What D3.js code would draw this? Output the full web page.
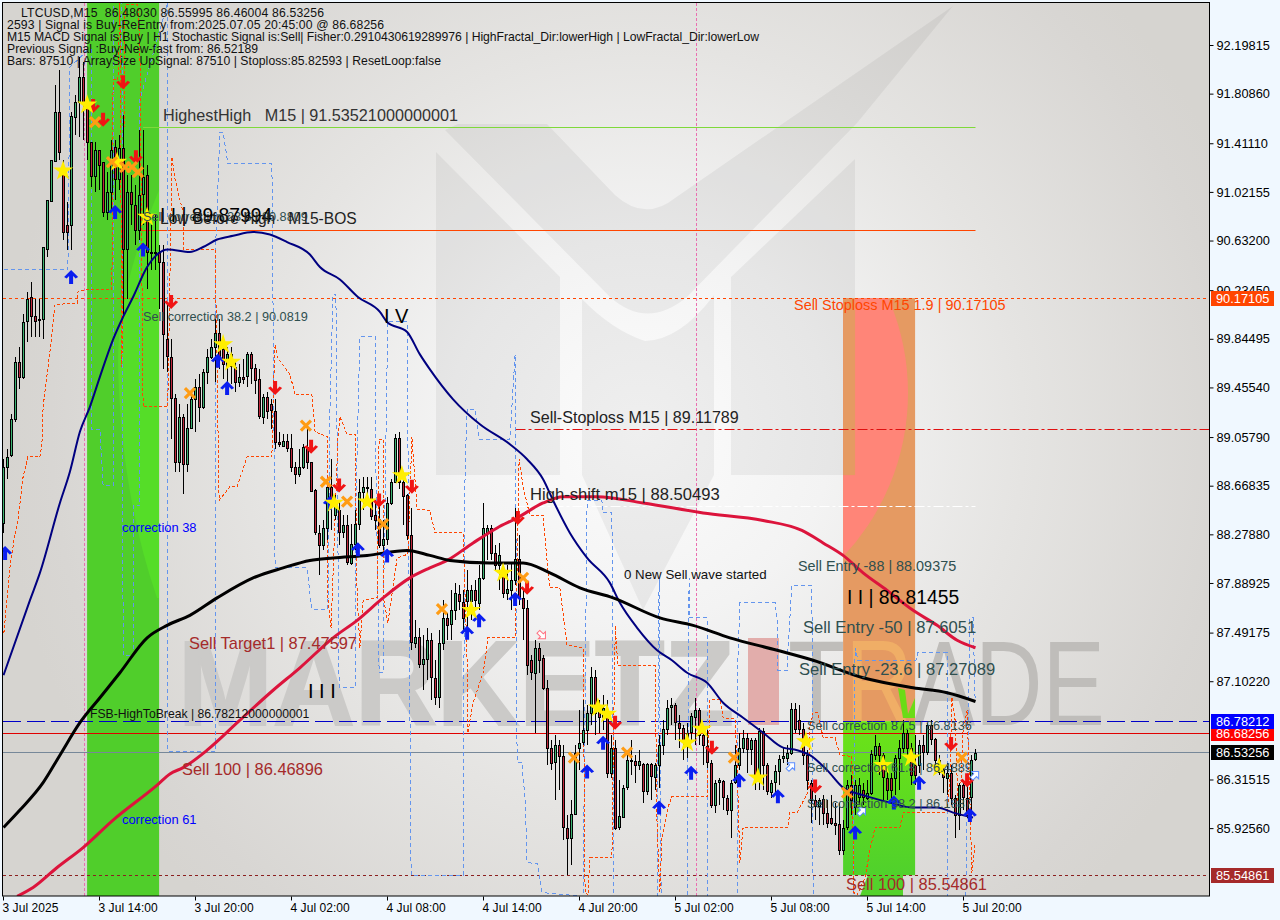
<!DOCTYPE html>
<html><head><meta charset="utf-8">
<script src="https://cdnjs.cloudflare.com/ajax/libs/d3/7.8.5/d3.min.js"></script>
<style>
html,body{margin:0;padding:0;background:#f0f8ff;width:1280px;height:920px;overflow:hidden}
svg{display:block;font-family:"Liberation Sans",Arial,sans-serif}
</style></head><body><svg id="c" width="1280" height="920"></svg>
<script>
// ---------- candle values, one per 15 minute bar from 3 Jul 2025 08:00 ----------
const opens=[88.37,88.82,88.91,89.20,89.66,89.54,89.98,90.18,90.03,90.00,90.00,90.57,90.95,91.27,91.66,91.20,90.76,90.76,91.62,91.74,
91.94,91.74,91.42,91.15,91.36,91.26,90.86,91.02,91.38,91.12,91.37,90.56,91.02,90.92,90.72,91.00,91.16,90.54,90.54,90.54,
90.46,89.84,89.70,89.37,88.86,89.22,88.84,89.13,89.36,89.46,89.30,89.58,89.70,89.78,89.89,89.76,89.62,89.72,89.62,89.50,
89.54,89.54,89.72,89.61,89.52,89.22,89.38,89.32,89.27,89.02,88.99,89.03,88.97,88.82,88.76,88.82,88.98,88.86,88.63,88.29,
88.19,88.33,88.66,88.43,88.47,88.29,88.35,88.05,88.20,88.36,88.62,88.66,88.64,88.43,88.40,88.19,88.24,88.53,88.70,89.05,
88.70,88.59,88.27,87.41,87.46,87.24,87.28,87.43,87.13,86.98,87.41,87.61,87.56,87.67,87.80,87.74,87.74,87.74,87.83,87.73,
87.93,88.29,88.33,88.13,88.03,87.96,87.81,87.83,87.91,88.08,87.77,87.69,87.27,87.17,87.37,87.29,87.05,86.57,86.45,86.59,
86.50,85.93,85.85,86.04,86.57,86.61,86.71,86.85,87.14,86.89,86.82,86.85,86.37,86.57,85.93,86.02,86.25,86.47,86.46,86.43,
86.44,86.22,86.44,86.33,86.43,86.59,86.72,86.89,86.91,86.77,86.73,86.63,86.69,86.81,86.87,86.67,86.58,86.45,86.11,86.29,
86.30,86.17,86.07,86.29,86.43,86.57,86.65,86.56,86.63,86.33,86.70,86.43,86.22,86.29,86.38,86.48,86.49,86.53,86.88,86.79,
86.72,86.51,86.29,86.15,86.10,86.16,86.05,86.01,85.97,85.96,85.75,85.93,86.27,86.09,86.17,86.23,86.17,86.21,86.51,86.58,
86.51,86.33,86.33,86.33,86.49,86.57,86.69,86.57,86.43,86.43,86.59,86.53,86.75,86.64,86.47,86.39,86.33,86.37,86.17,86.03,
86.27,86.17,86.17,86.48];
const closes=[88.82,88.90,89.20,89.66,89.54,89.98,90.16,90.03,89.99,89.99,90.58,90.96,91.28,91.66,91.34,90.70,90.70,91.63,91.74,91.94,
91.74,91.42,91.15,91.36,91.24,90.86,91.02,91.36,91.12,91.37,90.56,91.02,90.92,90.72,91.00,91.14,90.54,90.53,90.53,90.46,
89.88,89.70,89.37,88.86,89.22,88.84,89.13,89.36,89.46,89.30,89.58,89.70,89.78,89.89,89.70,89.64,89.72,89.62,89.50,89.54,
89.52,89.72,89.61,89.51,89.22,89.38,89.27,89.27,89.02,89.00,89.03,88.97,88.82,88.76,88.82,88.98,88.86,88.63,88.29,88.19,
88.33,88.66,88.55,88.55,88.29,88.35,88.05,88.20,88.36,88.62,88.66,88.65,88.42,88.39,88.19,88.24,88.53,88.70,89.05,88.70,
88.59,88.27,87.41,87.46,87.24,87.28,87.43,87.13,86.98,87.41,87.61,87.55,87.67,87.81,87.74,87.61,87.83,87.83,87.75,87.93,
88.33,88.33,88.13,88.03,88.11,87.81,87.84,87.91,88.08,87.77,87.69,87.23,87.17,87.37,87.27,87.05,86.57,86.45,86.59,86.50,
85.93,85.85,86.04,86.53,86.61,86.71,86.85,87.14,86.85,86.82,86.89,86.37,86.57,85.93,86.02,86.25,86.47,86.46,86.43,86.46,
86.22,86.44,86.34,86.43,86.59,86.72,86.89,86.91,86.77,86.73,86.63,86.69,86.82,86.87,86.67,86.59,86.45,86.11,86.29,86.31,
86.17,86.07,86.29,86.43,86.57,86.65,86.56,86.63,86.33,86.70,86.43,86.22,86.29,86.38,86.48,86.50,86.53,86.88,86.72,86.72,
86.51,86.31,86.15,86.10,86.15,86.05,85.97,85.97,85.95,85.75,85.93,86.27,86.15,86.27,86.27,86.17,86.21,86.52,86.58,86.51,
86.33,86.23,86.23,86.49,86.57,86.69,86.57,86.35,86.35,86.59,86.53,86.75,86.64,86.47,86.37,86.33,86.37,86.17,86.03,86.27,
86.17,86.03,86.47,86.53];
const highs=[88.88,88.96,89.24,89.70,89.78,90.04,90.22,90.30,90.16,90.16,90.58,90.96,91.28,91.88,92.00,91.28,90.94,91.66,91.80,92.10,
92.06,91.76,91.42,91.42,91.36,91.26,91.18,91.44,91.44,91.48,91.64,91.16,91.16,91.08,91.52,91.52,91.24,90.76,90.84,90.60,
90.60,90.12,89.84,89.40,89.32,89.24,89.32,89.40,89.52,89.56,89.60,89.76,89.84,90.00,90.00,89.84,89.78,89.78,89.68,89.64,
89.68,89.74,89.74,89.64,89.60,89.40,89.42,89.36,89.36,89.10,89.08,89.08,89.08,88.86,88.96,89.00,89.16,88.86,88.64,88.35,
88.39,88.66,88.88,88.59,88.55,88.43,88.43,88.36,88.47,88.72,88.74,88.74,88.74,88.55,88.51,88.39,88.58,88.72,89.08,89.10,
88.72,88.60,88.49,87.59,87.53,87.47,87.53,87.49,87.27,87.51,87.75,87.65,87.83,87.89,87.87,87.83,87.99,87.87,87.91,88.03,
88.53,88.35,88.35,88.19,88.21,88.03,88.03,88.05,88.49,88.27,87.83,87.75,87.31,87.43,87.41,87.31,87.11,86.63,86.67,86.63,
86.59,86.03,86.15,86.59,86.87,86.95,86.91,87.22,87.19,86.95,86.99,86.95,86.67,86.63,86.31,86.27,86.51,86.63,86.51,86.55,
86.45,86.45,86.45,86.45,86.67,86.79,86.95,86.97,86.93,86.83,86.75,86.77,86.85,86.97,86.89,86.75,86.71,86.47,86.31,86.33,
86.31,86.19,86.31,86.59,86.69,86.71,86.69,86.65,86.65,86.73,86.73,86.45,86.31,86.43,86.51,86.57,86.59,86.93,86.93,86.91,
86.77,86.55,86.31,86.19,86.17,86.19,86.15,86.19,86.13,86.13,85.99,86.31,86.35,86.31,86.33,86.29,86.31,86.55,86.67,86.61,
86.53,86.39,86.37,86.51,86.63,86.79,86.71,86.61,86.67,86.63,86.67,86.77,86.79,86.65,86.51,86.43,86.45,86.43,86.19,86.29,
86.31,86.31,86.51,86.56];
const lows=[88.29,88.72,88.90,89.18,89.44,89.52,89.82,89.86,89.86,89.86,89.84,90.50,90.94,91.26,91.28,90.64,90.56,90.56,91.48,91.46,
91.44,91.28,91.06,91.02,91.04,90.82,90.80,90.88,90.96,91.04,90.02,90.16,90.76,90.60,90.64,90.76,90.24,90.40,90.40,90.08,
89.60,89.58,89.04,88.78,88.78,88.60,88.78,89.12,89.10,89.18,89.28,89.48,89.68,89.50,89.60,89.52,89.48,89.48,89.42,89.46,
89.48,89.46,89.48,89.40,89.20,89.16,89.20,89.12,88.96,88.98,88.98,88.94,88.78,88.68,88.74,88.80,88.80,88.62,88.27,87.95,
88.15,88.23,88.31,88.39,88.19,88.25,88.03,88.03,88.15,88.31,88.47,88.55,88.39,88.31,88.17,88.15,88.19,88.51,88.69,88.64,
88.35,88.23,87.35,87.37,87.21,87.03,87.11,86.95,86.91,86.89,87.35,87.43,87.43,87.59,87.67,87.51,87.51,87.59,87.67,87.67,
87.91,88.07,88.07,87.99,87.83,87.77,87.75,87.67,87.87,87.71,87.43,87.15,87.11,86.69,87.17,87.03,86.43,86.39,86.15,86.23,
85.83,85.55,85.63,86.03,86.39,86.59,86.59,86.75,86.67,86.69,86.71,86.33,86.33,85.91,85.91,86.01,86.23,86.35,86.29,86.39,
86.13,86.19,86.15,86.23,86.25,86.51,86.67,86.75,86.63,86.57,86.47,86.49,86.63,86.59,86.59,86.43,86.41,86.09,86.05,86.11,
86.07,86.03,85.85,86.28,86.39,86.53,86.37,86.43,86.23,86.23,86.23,86.19,86.17,86.19,86.27,86.45,86.43,86.51,86.69,86.67,
86.43,86.23,85.97,85.99,85.95,85.95,85.93,85.95,85.87,85.71,85.71,85.91,86.03,86.03,86.11,86.11,86.15,86.19,86.47,86.35,
86.15,86.15,86.15,86.19,86.23,86.53,86.51,86.27,86.27,86.37,86.39,86.51,86.59,86.43,86.35,86.21,86.19,86.11,85.85,85.91,
86.07,86.01,86.03,86.46];

// ---------- moving averages read at sampled bars ----------
const navyBars=[0,6.6,9.1,14.1,16.6,19.1,21.6,24.1,27.4,29.9,32.4,35.9,38.4,41.1,46.6,49.9,53.4,57.4,62.4,66.6,70.9,76.6,79.1,84.1,88.6,94.1,95.9,100.9,104.1,106.6,112.4,119.1,126.6,130.9,134.9,137.4,141.6,145.9,151.6,154.1,158.4,163.4,167.1,170.9,175.9,179.9,184.9,189.9,194.9,198.4,201.6,205.9,209.9,214.9,221.6,227.4,233.4,237.4,242.4];
const navyValues=[87.15,87.75,87.97,88.53,88.78,89.10,89.30,89.54,89.84,90.02,90.18,90.42,90.52,90.56,90.54,90.58,90.64,90.67,90.70,90.68,90.62,90.52,90.42,90.32,90.18,90.06,89.98,89.90,89.72,89.60,89.36,89.16,89.00,88.88,88.72,88.55,88.29,88.09,87.89,87.73,87.53,87.35,87.27,87.17,87.09,86.93,86.81,86.69,86.57,86.55,86.51,86.39,86.25,86.19,86.13,86.09,86.09,86.05,86.01];
const crimsonBars=[3.4,7.4,13.4,19.9,27.4,38.4,41.6,44.9,50.9,59.1,67.4,74.1,82.4,88.4,94.9,101.6,106.6,110.9,117.4,123.4,128.4,134.9,139.9,148.4,159.9,174.9,189.9,199.6,204.9,209.9,214.9,220.9,227.4,233.4,238.4,243];
const crimsonValues=[85.38,85.45,85.61,85.77,85.99,86.27,86.36,86.41,86.55,86.79,87.03,87.21,87.45,87.59,87.77,87.93,88.01,88.07,88.21,88.33,88.41,88.53,88.58,88.58,88.53,88.45,88.39,88.31,88.21,88.11,87.97,87.83,87.67,87.55,87.43,87.37];
const blackBars=[0,4.1,9.9,14.1,19.1,24.1,29.1,35.9,40.9,46.6,53.4,62.4,69.9,76.6,82.4,90.9,100.9,106.6,111.6,121.6,129.9,136.6,144.1,152.4,164.1,172.4,181.6,193.4,202.4,214.9,227.4,235.9,243];
const blackValues=[85.93,86.07,86.29,86.51,86.77,86.97,87.17,87.45,87.55,87.63,87.77,87.93,88.01,88.07,88.09,88.11,88.15,88.11,88.07,88.05,88.05,87.97,87.85,87.77,87.61,87.55,87.45,87.35,87.27,87.13,87.05,87.01,86.94];

// ---------- stepped dashed channels ----------
const blueBars=[0,16.1,16.6,21.1,21.9,21.9,24.1,24.9,26.9,27.4,27.4,29.6,29.9,32.4,32.4,34.1,34.1,41.1,41.1,41.9,52.9,53.1,54.1,54.9,56.1,67.1,67.9,75.9,76.6,77.1,81.1,81.6,82.1,82.4,83.1,83.9,87.9,88.1,89.1,92.9,93.1,93.9,94.9,94.9,95.9,95.9,100.9,101.9,114.9,114.9,115.4,115.9,117.9,118.9,126.6,127.9,128.4,129.6,130.4,130.9,133.6,134.6,144.9,145.9,149.6,149.9,152.1,152.6,163.4,163.9,164.4,170.9,171.4,171.4,175.9,176.1,183.4,183.6,184.1,192.9,193.4,193.6,196.1,196.1,197.1,202.1,202.4,212.4,212.9,213.6,228.1,228.6,235.9,236.1,240.6,241.6,242.4,242.9];
const blueValues=[90.40,90.40,92.02,92.16,92.16,89.12,89.12,88.67,88.67,88.67,92.54,92.54,87.31,87.31,88.51,88.51,91.76,92.54,86.54,86.54,86.54,90.64,91.50,91.50,91.25,91.25,88.01,88.01,87.81,87.68,87.68,89.25,89.88,90.20,90.20,87.05,87.05,88.55,89.86,89.86,88.82,87.17,87.17,87.51,89.66,89.98,89.98,85.55,85.55,86.01,88.82,89.28,89.28,89.04,89.04,89.72,86.45,86.45,86.15,85.65,85.64,85.41,85.38,88.55,88.55,88.45,88.45,85.38,85.38,87.93,85.38,85.38,87.93,87.61,87.61,85.38,85.38,87.29,87.73,87.73,87.61,87.19,87.19,87.35,87.87,87.87,85.38,85.38,87.37,87.27,87.27,87.33,87.33,85.38,85.38,87.61,87.61,86.95];
const orangeBars=[0.1,0.9,1.6,2.9,3.6,4.9,6.1,9.1,9.6,9.9,11.6,12.9,18.4,18.6,20.9,27.1,27.4,28.6,29.1,29.6,30.4,33.6,34.1,34.9,41.1,41.1,42.1,42.9,44.1,44.9,44.9,52.9,53.1,53.9,56.6,58.4,60.9,67.1,67.4,67.9,68.4,71.6,72.9,77.1,77.9,81.1,81.1,81.9,83.6,84.1,85.9,87.9,88.4,89.1,89.9,93.4,93.9,94.9,95.1,96.1,98.4,101.1,102.1,103.4,106.6,107.9,114.9,115.9,116.1,117.4,119.9,120.4,121.1,127.9,128.4,128.9,129.9,131.6,134.9,136.1,136.6,139.1,140.9,144.9,145.4,146.1,146.6,152.1,152.4,152.9,152.9,153.6,162.9,163.4,164.1,164.6,166.1,167.1,175.9,176.6,179.1,179.9,182.9,183.4,183.6,184.1,184.9,196.1,196.6,198.4,200.4,201.1,201.6,202.4,203.6,204.9,207.9,209.1,212.1,212.6,213.4,215.4,216.6,217.9,224.1,224.9,235.9,236.6,237.1,237.9,238.6,239.1,239.9,240.9,241.6,242.1,242.9];
const orangeValues=[87.49,87.77,88.01,88.29,88.39,88.74,88.90,88.90,89.00,89.30,89.74,90.12,90.13,90.22,90.24,90.24,91.92,91.92,92.54,89.62,92.52,92.52,92.16,89.30,89.30,89.38,91.30,91.12,90.96,90.86,90.56,90.56,90.18,88.55,88.66,88.66,88.90,88.90,89.36,89.80,89.70,89.56,89.40,89.40,89.10,89.06,87.77,87.53,89.04,89.22,89.08,89.08,87.81,87.37,87.75,87.77,89.04,89.04,87.75,87.57,88.09,88.12,89.06,88.48,88.47,88.29,88.29,87.27,86.69,86.93,87.17,87.27,87.45,87.45,88.01,88.88,88.66,88.43,88.43,87.99,87.85,87.85,87.39,87.37,85.41,85.39,85.69,85.69,86.47,87.45,87.55,87.23,87.23,85.93,85.41,85.85,86.09,86.18,86.18,86.95,86.96,86.81,86.80,86.47,86.21,85.65,85.93,85.93,86.05,86.05,86.17,86.21,86.73,86.85,86.85,86.65,86.65,86.51,86.50,85.41,85.39,85.53,85.75,85.93,85.93,86.05,86.05,86.31,86.97,86.79,86.15,86.07,86.71,86.87,86.15,85.57,85.81];

// ---------- signal markers ----------
const buyBars=[0.4,16.9,27.9,34.9,53.6,55.9,81.6,88.6,95.9,115.9,118.9,127.9,145.9,149.9,163.9,171.9,183.9,193.6,212.9,222.6,228.9,241.6];
const buyValues=[88.13,90.34,90.86,90.56,89.67,89.45,88.53,88.16,88.11,87.49,87.59,87.76,86.38,86.61,86.09,86.37,86.31,86.18,85.89,86.13,86.29,86.03];
const sellBars=[22.4,24.9,29.9,33.1,41.9,67.9,76.9,83.9,93.9,102.1,128.6,130.9,152.9,177.1,202.9,236.9,240.9];
const sellValues=[91.71,91.60,91.90,91.30,90.14,89.45,88.98,88.67,88.55,88.66,88.41,87.85,86.77,86.57,86.26,86.60,86.31];
const starBars=[14.9,20.9,28.4,35.9,54.9,56.9,82.6,90.9,99.6,116.9,124.9,148.6,150.9,170.9,174.6,188.6,200.6,219.9,226.9,233.9];
const starValues=[91.19,91.72,91.26,90.82,89.80,89.66,88.53,88.54,88.75,87.67,87.97,86.89,86.84,86.61,86.72,86.33,86.62,86.43,86.49,86.41];
const crossBars=[22.9,27.1,30.4,32.1,33.6,46.6,75.6,80.6,85.9,94.9,109.6,129.9,142.6,155.9,182.6,210.9,239.6];
const crossValues=[91.58,91.26,91.22,91.22,91.18,89.41,89.15,88.70,88.54,88.36,87.68,87.93,86.49,86.53,86.49,86.21,86.49];
const hollowBars=[134.6,196.9,214.6,242.9];
const hollowValues=[87.47,86.42,86.06,86.35];

// ---------- levels, axis ----------
const priceTicks=[92.19815,91.8086,91.4111,91.02155,90.632,90.2345,89.84495,89.4554,89.0579,88.66835,88.2788,87.88925,87.49175,87.1022,86.31515,85.9256];
const timeTickBars=[0,24,48,72,96,120,144,168,192,216,240];
const timeTickLabels=["3 Jul 2025","3 Jul 14:00","3 Jul 20:00","4 Jul 02:00","4 Jul 08:00","4 Jul 14:00","4 Jul 20:00","5 Jul 02:00","5 Jul 08:00","5 Jul 14:00","5 Jul 20:00"];
const badgeValues=[90.17105,86.68256,86.78212,86.53256,85.54861];
const separatorBars=[20,173];

const annotationTexts=["HighestHigh   M15 | 91.53521000000001","Sell correction 23.6 | 90.8809","I I | 89.87994","Low Before High   M15-BOS","Sell correction 38.2 | 90.0819","I V","correction 38","correction 61","Sell Target1 | 87.47597","I I I","FSB-HighToBreak | 86.78212000000001","Sell 100 | 86.46896","Sell-Stoploss M15 | 89.11789","High-shift m15 | 88.50493","0 New Sell wave started","Sell Stoploss M15 1.9 | 90.17105","Sell Entry -88 | 88.09375","I I | 86.81455","Sell Entry -50 | 87.6051","Sell Entry -23.6 | 87.27089","Sell correction 87.5 | 86.8136","Sell correction 61.8 | 86.4889","Sell correction 38.2 | 86.1887","Sell 100 | 85.54861"];
const headerLines=["LTCUSD,M15  86.48030 86.55995 86.46004 86.53256","2593 | Signal is Buy-ReEntry from:2025.07.05 20:45:00 @ 86.68256","M15 MACD Signal is:Buy | H1 Stochastic Signal is:Sell| Fisher:0.2910430619289976 | HighFractal_Dir:lowerHigh | LowFractal_Dir:lowerLow","Previous Signal :Buy-New-fast from: 86.52189","Bars: 87510 | ArraySize UpSignal: 87510 | Stoploss:85.82593 | ResetLoop:false"];
const headerWidths=[303,377,752,251,434];

// ---------- layout ----------
const L=3,R=1209,T=3,B=896;
const x=d3.scaleLinear().domain([0,1]).range([3.5,7.5]);
const y=d3.scaleLinear().domain([92.19815,85.54861]).range([45,875.2]);
const svg=d3.select("#c");
const defs=svg.append("defs");
const rg=defs.append("radialGradient").attr("id","bg").attr("gradientUnits","userSpaceOnUse").attr("cx",640).attr("cy",430).attr("r",640);
[[0,"#fcfcfc"],[.3,"#f3f3f3"],[.6,"#e5e4e2"],[.92,"#d8d6d3"],[1,"#d6d4d0"]].forEach(s=>rg.append("stop").attr("offset",s[0]).attr("stop-color",s[1]));
const lg=defs.append("linearGradient").attr("id","gr").attr("x1",0).attr("y1",0).attr("x2",0).attr("y2",1);
[[0,"#6ce318"],[.5,"#5edb20"],[1,"#50d12c"]].forEach(s=>lg.append("stop").attr("offset",s[0]).attr("stop-color",s[1]));
defs.append("clipPath").attr("id","plot").append("rect").attr("x",L).attr("y",T).attr("width",R-L).attr("height",B-T);

svg.append("rect").attr("x",L).attr("y",T).attr("width",R-L).attr("height",B-T).attr("fill","url(#bg)");
const g=svg.append("g").attr("clip-path","url(#plot)");

// watermark logo
const wm=g.append("g").attr("fill","#000").attr("fill-opacity",.05);
["M436,152L560,277V475H436Z","M855,159L731,277V475H855Z","M582,299Q612,330 645,341Q680,340 714,295V475L643,610L582,475Z",
 "M445,130L458,124H547L615,195Q645,222 675,198L953,6L857,123L687,297Q647,330 610,297Z"].forEach(d=>wm.append("path").attr("d",d));
// watermark word
g.append("text").attr("x",178).attr("y",725).attr("font-size",120).attr("font-weight","bold").attr("fill","#cbcac8").attr("stroke","#cbcac8").attr("stroke-width",2).attr("textLength",556).attr("lengthAdjust","spacingAndGlyphs").text("MARKETZ");
g.append("rect").attr("x",748).attr("y",638).attr("width",31).attr("height",87).attr("fill","#e2adab");
g.append("text").attr("x",788).attr("y",725).attr("font-size",120).attr("fill","#bfbdba").attr("textLength",317).attr("lengthAdjust","spacingAndGlyphs").text("TRADE");

// left green band
const band1=[20.9,38.9], band2=[209.9,227.9];
g.append("rect").attr("x",x(band1[0])).attr("y",T).attr("width",x(band1[1])-x(band1[0])).attr("height",B-T).attr("fill","#50ce2b");
g.append("path").attr("d","M159,190Q118,290 118,360Q120,490 157,598H159Z").attr("fill","#55dd28");
// right zone
const zx=x(band2[0]), zw=x(band2[1])-zx;
g.append("rect").attr("x",zx).attr("y",y(90.17105)).attr("width",zw).attr("height",y(86.78212)-y(90.17105)).attr("fill","#e59a62");
defs.append("clipPath").attr("id","zone").append("rect").attr("x",zx).attr("y",y(90.17105)).attr("width",zw).attr("height",y(85.54861)-y(90.17105));
const zone=g.append("g").attr("clip-path","url(#zone)");
zone.append("circle").attr("cx",669).attr("cy",393).attr("r",239).attr("fill","#ff8578");
zone.append("text").attr("x",788).attr("y",725).attr("font-size",120).attr("fill","#f0ae66").attr("textLength",317).attr("lengthAdjust","spacingAndGlyphs").text("TRADE");
g.append("path").attr("d","M898,688L905,690L908,714L915,698V718H903Z").attr("fill","#6bdc16");
g.append("rect").attr("x",zx).attr("y",y(86.78212)).attr("width",zw).attr("height",y(85.54861)-y(86.78212)).attr("fill","url(#gr)");
g.append("path").attr("d","M868,875H903V896H860Z").attr("fill","#54d22c");
// where the logo leg crosses the zone the red disc is hidden
g.append("rect").attr("x",zx).attr("y",y(90.17105)).attr("width",12).attr("height",177).attr("fill","#e59a62");

// separators
g.selectAll(".sep").data(separatorBars).join("line").attr("x1",d=>Math.round(x(d))+.5).attr("x2",d=>Math.round(x(d))+.5).attr("y1",T).attr("y2",B).attr("stroke","#ea6fb0").attr("stroke-dasharray","3,2").attr("shape-rendering","crispEdges");

// levels
function lvl(p,b0,b1,col,dash){g.append("line").attr("x1",b0==null?L:x(b0)).attr("x2",b1==null?R:x(b1)).attr("y1",Math.floor(y(p))+.5).attr("y2",Math.floor(y(p))+.5).attr("stroke",col).attr("stroke-dasharray",dash||null);}
lvl(91.53521,34.9,243,"#7fd93a");
lvl(90.715,34.1,243,"#ff4500");
lvl(90.17105,null,null,"#ff4500","3,3");
lvl(89.11789,128,null,"#e01010","10,3,3,3");
lvl(88.50493,128,243,"#ffffff","10,3,3,3");
lvl(86.78212,null,null,"#0000c8","18,6");
lvl(86.68256,null,null,"#e00000");
lvl(86.53256,null,null,"#778899");
lvl(85.54861,null,null,"#8b2020","3,3");

// channels
const ln=d3.line().x(d=>x(d[0])).y(d=>y(d[1]));
g.append("path").attr("d",ln(d3.zip(blueBars,blueValues))).attr("fill","none").attr("stroke","#6495ed").attr("stroke-dasharray","4,3").attr("shape-rendering","crispEdges");
g.append("path").attr("d",ln(d3.zip(orangeBars,orangeValues))).attr("fill","none").attr("stroke","#ff4500").attr("stroke-dasharray","3,2").attr("shape-rendering","crispEdges");

// candles
const idx=d3.range(opens.length);
const c=g.append("g").attr("shape-rendering","crispEdges");
const bt=i=>Math.round(y(Math.max(opens[i],closes[i])));
const bh=i=>Math.max(1,Math.round(Math.abs(y(opens[i])-y(closes[i]))));
c.selectAll(".w").data(idx).join("line").attr("x1",i=>x(i)).attr("x2",i=>x(i)).attr("y1",i=>y(highs[i])).attr("y2",i=>y(lows[i])).attr("stroke","#000");
c.selectAll(".o").data(idx).join("rect").attr("x",i=>x(i)-1.5).attr("width",3).attr("y",bt).attr("height",i=>bh(i)+1).attr("fill","#000");
c.selectAll(".f").data(idx.filter(i=>bh(i)>1)).join("rect").attr("x",i=>x(i)-.5).attr("width",1).attr("y",i=>bt(i)+1).attr("height",i=>bh(i)-1).attr("fill",i=>closes[i]>=opens[i]?"#3cb371":"#c0283c");

// moving averages
const cv=d3.line().x(d=>x(d[0])).y(d=>y(d[1])).curve(d3.curveMonotoneX);
g.append("path").attr("d",cv(d3.zip(navyBars,navyValues))).attr("fill","none").attr("stroke","#000080").attr("stroke-width",2);
g.append("path").attr("d",cv(d3.zip(crimsonBars,crimsonValues))).attr("fill","none").attr("stroke","#dc143c").attr("stroke-width",3);
g.append("path").attr("d",cv(d3.zip(blackBars,blackValues))).attr("fill","none").attr("stroke","#000").attr("stroke-width",3);

// markers
const place=(bars,vals)=>d3.zip(bars,vals);
const tr=d=>`translate(${x(d[0])},${y(d[1])})`;
const up="M0,-7L7,0L4.5,1.5L2,-1V7H-2V-1L-4.5,1.5L-7,0Z";
g.selectAll(".b").data(place(buyBars,buyValues)).join("path").attr("d",up).attr("fill","#0a1ef0").attr("transform",tr);
g.selectAll(".s").data(place(sellBars,sellValues)).join("path").attr("d",up).attr("fill","#f01414").attr("transform",d=>tr(d)+" scale(1,-1)");
g.selectAll(".st").data(place(starBars,starValues)).join("path").attr("d",d3.symbol(d3.symbolStar,125)).attr("fill","#ffee00").attr("transform",tr);
g.selectAll(".x").data(place(crossBars,crossValues)).join("path").attr("d","M-5,-5L5,5M5,-5L-5,5").attr("stroke","#ff9c14").attr("stroke-width",3.2).attr("fill","none").attr("transform",tr);
const hollowColors=["#ff7080","#5a8cff","#5a8cff","#5a8cff"];
g.selectAll(".h").data(place(hollowBars,hollowValues)).join("path").attr("d","M0,-5L5,0L2,0V5H-2V0H-5Z").attr("fill","#fff").attr("stroke",(d,i)=>hollowColors[i]).attr("transform",(d,i)=>tr(d)+(i==0?" rotate(135)":" rotate(45)"));

// annotations
const annotationLayout=[[163,115,16.2,"#333"],[143,216,12.7,"#2f4f4f"],[160,215,19.3,"#000"],[160,218,15.6,"#222"],[143,316,12.7,"#2f4f4f"],[384,316,20,"#000"],[122,527,12.9,"#0000ff"],[122,819,12.9,"#0000ff"],[189,643,16.4,"#a52a2a"],[308,691,20,"#000"],[90,714,12.2,"#111"],[182,769,16.4,"#a52a2a"],[530,417,16.1,"#222"],[530,494,16.6,"#222"],[624,574,13.3,"#111"],[794,305,14.45,"#ff4500"],[798,566,14.4,"#2f4f4f"],[847,597,19.3,"#000"],[803,627,16.6,"#2f4f4f"],[799,669,16.6,"#2f4f4f"],[807,725,12.7,"#2f4f4f"],[807,767,12.7,"#2f4f4f"],[807,803,12.7,"#2f4f4f"],[846,884,16.4,"#a52a2a"]];
svg.append("g").selectAll("text").data(annotationTexts).join("text").attr("x",(d,i)=>annotationLayout[i][0]).attr("y",(d,i)=>annotationLayout[i][1]).attr("dy",".36em").attr("font-size",(d,i)=>annotationLayout[i][2]).attr("fill",(d,i)=>annotationLayout[i][3]).style("white-space","pre").text(d=>d);
svg.append("g").selectAll("text").data(headerLines).join("text").attr("x",(d,i)=>i==0?21:7).attr("y",(d,i)=>i==4?61:13+i*12).attr("dy",".36em").attr("font-size",12.2).attr("fill","#111").attr("textLength",(d,i)=>headerWidths[i]).attr("lengthAdjust","spacing").style("white-space","pre").text(d=>d);

// frame + axes
svg.append("rect").attr("x",2.5).attr("y",2.5).attr("width",1207).attr("height",893.5).attr("fill","none").attr("stroke","#000");
const ax=svg.append("g").attr("transform",`translate(${R+.5},0)`).call(d3.axisRight(y).tickValues(priceTicks).tickSize(4).tickPadding(3).tickFormat(d3.format(".5f")));
const bx=svg.append("g").attr("transform",`translate(-0.5,${B+.5})`).call(d3.axisBottom(x).tickValues(timeTickBars).tickSize(4).tickPadding(3).tickFormat((d,i)=>timeTickLabels[i]));
ax.select(".domain").remove();bx.select(".domain").remove();
ax.selectAll("text").attr("font-size",12.8).attr("font-family","Liberation Sans").attr("fill","#000");
bx.selectAll("text").attr("font-size",12).attr("font-family","Liberation Sans").attr("fill","#000").attr("text-anchor","start").attr("letter-spacing",.05).attr("x",-1);

// price badges
const badgeFill=["#ff4500","#ff0000","#0000ff","#000000","#a52a2a"];
const badge=svg.append("g").selectAll("g").data(badgeValues).join("g").attr("transform",d=>`translate(1211,${Math.floor(y(d))})`);
badge.append("rect").attr("x",0).attr("y",-7).attr("width",63).attr("height",15).attr("fill",(d,i)=>badgeFill[i]);
badge.append("text").attr("x",5).attr("y",0).attr("dy",".36em").attr("font-size",12.8).attr("fill","#fff").text(d=>d3.format(".5f")(d));
</script></body></html>
